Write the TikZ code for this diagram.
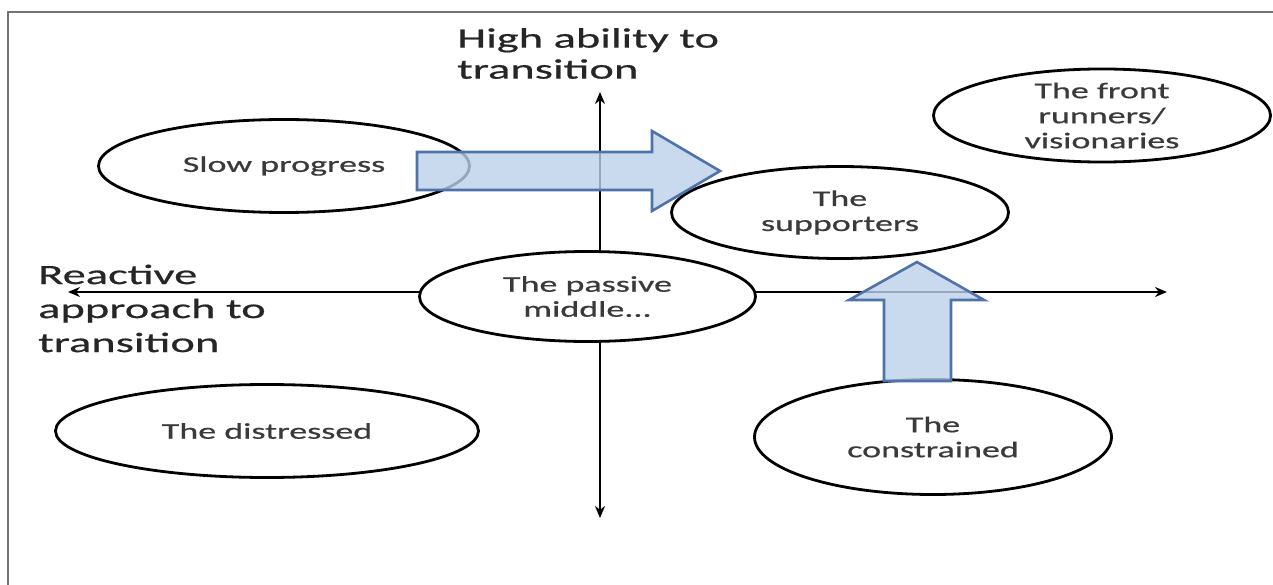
\documentclass[tikz,border=0pt]{standalone}
\usepackage{fontspec}
\setmainfont{Carlito}[FakeStretch=1.6, FakeBold=0.6]
\newfontfamily\axisfont{Carlito}[FakeStretch=1.66, FakeBold=0.6]
\usetikzlibrary{shapes.geometric,arrows.meta}
\definecolor{blockfill}{HTML}{BCD0EA}
\definecolor{blockedge}{HTML}{4F73A8}
\definecolor{labeltext}{HTML}{3A3A3A}
\begin{document}
\begin{tikzpicture}[x=1pt, y=-1pt,
		group/.style={ellipse, draw, line width=2.8pt, fill=white, inner sep=0pt, align=center, text=labeltext, font=\fontsize{22.5}{25}\selectfont},
		axislabel/.style={anchor=north west, inner sep=0pt, align=left, text=black!85},
		axisline/.style={{Stealth[length=12pt,width=10pt]}-{Stealth[length=12pt,width=10pt]}, line width=2.5pt},
		blockarrow/.style={draw=blockedge, fill=blockfill, fill opacity=0.8, line width=2.6pt, line join=miter}]
		\useasboundingbox (0, 0) rectangle (1273, 585);
		\draw[black!55, line width=1.2pt] (8, 585) -- (8, 12) -- (1273, 12);
		\coordinate (left) at (68, 292);
		\coordinate (right) at (1167, 292);
		\coordinate (top) at (600, 92);
		\coordinate (bottom) at (600, 518);
		\draw[axisline] (left) -- (right);
		\draw[axisline] (bottom) -- (top);
		\node[axislabel, font=\axisfont\fontsize{28}{31}\selectfont] (high) at (457, 28) {High ability to\\transition};
		\node[axislabel, font=\axisfont\fontsize{28}{34}\selectfont] (reactive) at (38, 264.5) {Reactive\\approach to\\transition};
		\node[group, minimum width=371, minimum height=93] (slow) at (284, 166) {Slow progress};
		\node[group, minimum width=337, minimum height=92] (supporters) at (840, 212.5) {The\\supporters};
		\node[group, minimum width=337, minimum height=92] (front) at (1102, 115.5) {The front\\runners/\\visionaries};
		\node[group, minimum width=336, minimum height=90] (passive) at (587.5, 296.5) {The passive\\middle...};
		\node[group, minimum width=423, minimum height=93] (distressed) at (267, 431) {The distressed};
		\node[group, minimum width=357, minimum height=115] (constrained) at (933, 437) {The\\constrained};
		\draw[blockarrow] (417, 152) -- (652, 152) -- (652, 131) -- (720, 171) -- (652, 211) -- (652, 190) -- (417, 190) -- cycle;
		\draw[blockarrow] (884, 381) -- (884, 300) -- (849, 300) -- (917, 262) -- (984, 300) -- (951, 300) -- (951, 381) -- cycle;
	\end{tikzpicture}
\end{document}
